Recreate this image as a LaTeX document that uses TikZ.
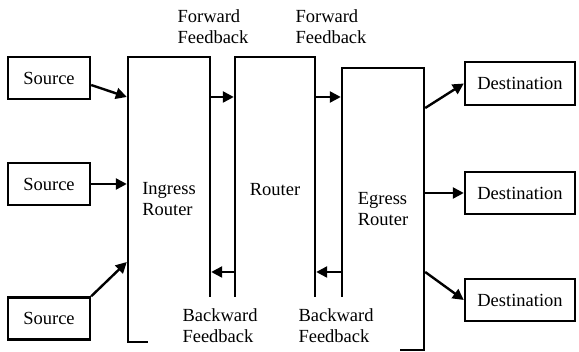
\documentclass[tikz,border=0pt]{standalone}
\usepackage{fontspec}
\setmainfont{Liberation Serif}
\usetikzlibrary{
  arrows.meta,
  positioning
}
\newcommand{\diagfont}{\fontsize{18.5}{21}\selectfont}
\tikzset{
  endbox/.style={
    draw, line width=2.4pt, minimum height=42pt,
    inner sep=2pt, font=\diagfont
  },
  routerbox/.style={
    draw, line width=2.4pt, align=left,
    inner sep=0pt, font=\diagfont
  },
  fblabel/.style={
    align=left, inner sep=0pt, font=\diagfont
  },
  fbcover/.style={
    fblabel, fill=white, anchor=north, minimum height=56pt
  },
  flowarrow/.style={
    -{Triangle[length=11pt,width=11pt]}, line width=2.4pt
  },
}

\begin{document}
\begin{tikzpicture}[x=1pt,y=-1pt]

  \useasboundingbox[fill=white] (0,0) rectangle (579,352);

  %% Rows for the arrows
  \coordinate (fwdrow) at (0,97);
  \coordinate (bwdrow) at (0,272);
  \coordinate (lowrow) at (0,262);
  \coordinate (outrow) at (0,108);

  %% Sources
  \node[endbox, minimum width=82pt] (src1) at (49,78) {Source};
  \node[endbox, minimum width=82pt] (src2) at (49,184) {Source};
  \node[endbox, minimum width=82pt] (src3) at (49,318.5) {Source};

  %% Routers
  \node[routerbox, minimum width=82pt, minimum height=285pt] (ingress)
    at (169,199.5) {Ingress\\Router};
  \node[routerbox, minimum width=80pt, minimum height=266pt] (router)
    at (275,190) {Router};
  \node[routerbox, minimum width=82pt, minimum height=282pt] (egress)
    at (383,209) {Egress\\Router};

  %% Destinations
  \node[endbox, minimum width=110pt, minimum height=43pt] (dst1)
    at (520,83.5) {Destination};
  \node[endbox, minimum width=110pt] (dst2) at (520,193) {Destination};
  \node[endbox, minimum width=110pt] (dst3) at (520,300) {Destination};

  %% Feedback labels
  \node[fblabel] (fwd1) at (213,27) {Forward\\Feedback};
  \node[fblabel] (fwd2) at (331,27) {Forward\\Feedback};
  \node[fbcover, minimum width=144pt] (bwd1) at (220,297)
    {Backward\\Feedback};
  \node[fbcover, minimum width=128pt] (bwd2) at (336,297)
    {Backward\\Feedback};

  %% Into the ingress router
  \draw[flowarrow] ([yshift=-7pt]src1.east) -- (ingress.west |- fwdrow);
  \draw[flowarrow] (src2.east) -- (ingress.west |- src2);
  \draw[flowarrow] (src3.north east) -- (ingress.west |- lowrow);

  %% Forward feedback
  \draw[flowarrow] (ingress.east |- fwdrow) -- (router.west |- fwdrow);
  \draw[flowarrow] (router.east |- fwdrow) -- (egress.west |- fwdrow);

  %% Backward feedback
  \draw[flowarrow] (router.west |- bwdrow) -- (ingress.east |- bwdrow);
  \draw[flowarrow] (egress.west |- bwdrow) -- (router.east |- bwdrow);

  %% Out of the egress router
  \draw[flowarrow] (egress.east |- outrow) -- (dst1.west);
  \draw[flowarrow] (egress.east |- dst2) -- (dst2.west);
  \draw[flowarrow] (egress.east |- bwdrow) -- (dst3.west);

\end{tikzpicture}
\end{document}
